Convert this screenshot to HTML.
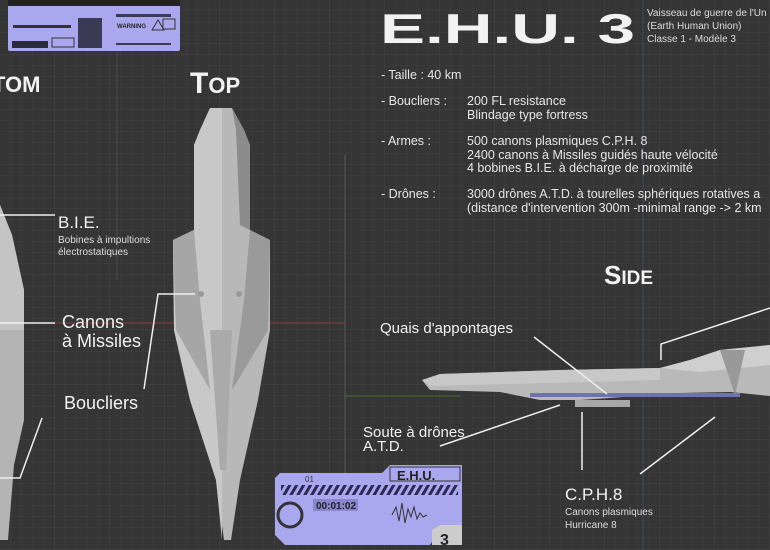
<!DOCTYPE html>
<html><head><meta charset="utf-8"><style>
html,body{margin:0;padding:0;background:#353535;}
svg{display:block}
text{font-family:"Liberation Sans",sans-serif;fill:#f2f2f2}
.s{font-size:12.5px;fill:#e6e6e6}
</style></head><body>
<svg width="770" height="550" viewBox="0 0 770 550" xmlns="http://www.w3.org/2000/svg">
<defs>
<pattern id="g" width="11" height="11" patternUnits="userSpaceOnUse">
<path d="M11 0V11M0 11H11" stroke="#3f3f3f" stroke-width="1" fill="none"/>
</pattern>
<pattern id="G" width="55" height="55" patternUnits="userSpaceOnUse">
<path d="M55 0V55M0 55H55" stroke="#454545" stroke-width="1" fill="none"/>
</pattern>
<pattern id="h" width="6" height="6" patternUnits="userSpaceOnUse" patternTransform="rotate(30)">
<rect width="3" height="6" fill="#2a2a55"/>
</pattern>
</defs>
<rect width="770" height="550" fill="#353535"/>
<rect width="770" height="550" fill="url(#g)"/>
<rect width="770" height="550" fill="url(#G)"/>
<line x1="0" y1="323" x2="345" y2="323" stroke="#8a3a3a" stroke-width="1"/>
<line x1="345" y1="155" x2="345" y2="505" stroke="#5a5a5a"/>
<line x1="345" y1="396" x2="460" y2="396" stroke="#4a6a2a"/>
<line x1="643" y1="0" x2="643" y2="550" stroke="#3e4a60"/>
<line x1="117" y1="50" x2="117" y2="280" stroke="#4a4a4a"/>

<!-- top panel -->
<rect x="8" y="3" width="172" height="48" rx="2" fill="#a9a8ee"/>
<rect x="8" y="0" width="172" height="6" fill="#222"/>
<rect x="13" y="25" width="58" height="3" fill="#333"/>
<rect x="12" y="41" width="36" height="7" fill="#2b2b3d"/>
<rect x="52" y="38" width="22" height="9" fill="none" stroke="#333"/>
<g fill="#3a3a55"><rect x="78" y="18" width="24" height="30"/><rect x="116" y="14" width="55" height="3"/><rect x="116" y="43" width="55" height="2"/></g>
<text x="117" y="28" style="font-size:6px;font-weight:bold;fill:#222">WARNING</text>
<polygon points="152,30 158,20 164,30" fill="none" stroke="#333"/>
<rect x="163" y="19" width="12" height="10" fill="none" stroke="#333"/>

<!-- title -->
<g transform="translate(380,43) scale(1,0.78)">
<text x="0" y="0" style="font-size:54px;font-weight:bold" textLength="255" lengthAdjust="spacingAndGlyphs">E.H.U. 3</text>
</g>
<text x="647" y="16" style="font-size:10px;fill:#ddd">Vaisseau de guerre de l'Un</text>
<text x="647" y="29" style="font-size:10px;fill:#ddd">(Earth Human Union)</text>
<text x="647" y="42" style="font-size:10px;fill:#ddd">Classe 1 - Modèle 3</text>
<text x="381" y="79" class="s">- Taille : 40 km</text>
<text x="381" y="105" class="s">- Boucliers :</text>
<text x="467" y="105" class="s">200 FL resistance</text>
<text x="467" y="119" class="s">Blindage type fortress</text>
<text x="381" y="145" class="s">- Armes :</text>
<text x="467" y="145" class="s">500   canons plasmiques C.P.H. 8</text>
<text x="467" y="159" class="s">2400 canons à Missiles guidés haute vélocité</text>
<text x="467" y="172" class="s">4 bobines B.I.E. à décharge de proximité</text>
<text x="381" y="198" class="s">- Drônes :</text>
<text x="467" y="198" class="s">3000 drônes A.T.D. à tourelles sphériques rotatives a</text>
<text x="467" y="212" class="s">(distance d'intervention 300m -minimal range -&gt; 2 km</text>

<text x="-8" y="92" style="font-size:22px;font-weight:bold">TOM</text>
<text x="190" y="93" style="font-size:30px;font-weight:bold">T<tspan style="font-size:22px">OP</tspan></text>
<text x="604" y="284" style="font-size:26px;font-weight:bold">S<tspan style="font-size:19px">IDE</tspan></text>

<!-- bottom view ship partial -->
<polygon points="0,205 12,235 24,290 24,420 14,465 8,540 0,540" fill="#b4b4b4"/>
<polygon points="0,205 12,235 24,290 24,330 0,330" fill="#c4c4c4"/>

<!-- top view ship -->
<polygon points="210,108 232,108 244,130 250,145 250,230 270,240 270,330 258,400 240,480 231,540 224,540 216,480 190,400 174,330 173,240 194,230 194,145 200,130" fill="#b8b8b8"/>
<polygon points="210,108 222,108 222,540 216,480 190,400 174,330 173,240 194,230 194,145 200,130" fill="#c8c8c8"/>
<polygon points="232,108 244,130 250,145 250,230 240,225 236,130" fill="#8c8c8c"/>
<polygon points="194,230 173,240 176,330 210,390 200,300" fill="#a6a6a6"/>
<polygon points="250,230 270,240 268,330 232,390 244,300" fill="#9a9a9a"/>
<polygon points="210,330 232,330 226,470 220,470" fill="#aaaaaa"/>
<circle cx="201" cy="294" r="3" fill="#999"/><circle cx="239" cy="294" r="3" fill="#999"/>

<!-- side ship -->
<polygon points="422,380 440,374 560,370 660,368 690,360 720,350 770,345 770,396 730,392 680,393 580,400 540,400 500,392 430,390" fill="#b9b9b9"/>
<polygon points="660,368 690,360 720,350 770,345 770,365 700,372" fill="#cfcfcf"/>
<polygon points="422,380 440,374 560,370 660,368 660,380 430,386" fill="#c8c8c8"/>
<rect x="530" y="393" width="210" height="4" fill="#6e72b0"/>
<rect x="575" y="400" width="55" height="7" fill="#a8a8a8"/>
<polygon points="720,350 735,395 745,350" fill="#999"/>

<g stroke="#eee" stroke-width="1.5" fill="none">
<polyline points="0,215 55,215"/>
<polyline points="0,323 55,323"/>
<polyline points="144,389 158,294 195,294"/>
<polyline points="0,478 20,478 42,418"/>
<polyline points="534,337 607,394"/>
<polyline points="440,446 560,405"/>
<polyline points="582,412 582,470"/>
<polyline points="640,474 715,417"/>
<polyline points="661,360 661,344 770,308"/>
</g>

<text x="58" y="228" style="font-size:17px">B.I.E.</text>
<text x="58" y="243" style="font-size:10px;fill:#ddd">Bobines à impultions</text>
<text x="58" y="255" style="font-size:10px;fill:#ddd">électrostatiques</text>
<text x="62" y="328" style="font-size:18px">Canons</text>
<text x="62" y="347" style="font-size:18px">à Missiles</text>
<text x="64" y="409" style="font-size:18px">Boucliers</text>
<text x="380" y="333" style="font-size:15px">Quais d'appontages</text>
<text x="363" y="437" style="font-size:15px">Soute à drônes</text>
<text x="363" y="451" style="font-size:15px">A.T.D.</text>
<text x="565" y="500" style="font-size:17px">C.P.H.8</text>
<text x="565" y="515" style="font-size:10px;fill:#ddd">Canons plasmiques</text>
<text x="565" y="528" style="font-size:10px;fill:#ddd">Hurricane 8</text>

<!-- bottom panel -->
<polygon points="275,478 280,473 382,473 390,465 462,465 462,530 440,530 430,545 285,545 275,535" fill="#a9a8ee"/>
<rect x="390" y="467" width="70" height="14" fill="#a9a8ee" stroke="#333" stroke-width="1"/>
<text x="397" y="480" style="font-size:13px;font-weight:bold;fill:#222">E.H.U.</text>
<text x="305" y="482" style="font-size:8px;fill:#333">01</text>
<rect x="281" y="485" width="177" height="10" fill="url(#h)"/>
<circle cx="290" cy="515" r="12" fill="none" stroke="#333" stroke-width="3"/>
<rect x="313" y="499" width="45" height="12" fill="#8886cc"/>
<text x="316" y="509" style="font-size:10px;font-weight:bold;fill:#222">00:01:02</text>
<path d="M392 515 l4 -8 l3 14 l3 -18 l3 20 l3 -14 l3 8 l3 -10 l3 12 l3 -6 l3 4 l4 -2" stroke="#333" fill="none"/>
<polygon points="432,530 440,525 462,525 462,545 432,545" fill="#ccc"/>
<text x="440" y="545" style="font-size:16px;font-weight:bold;fill:#222">3</text>
</svg>
</body></html>
